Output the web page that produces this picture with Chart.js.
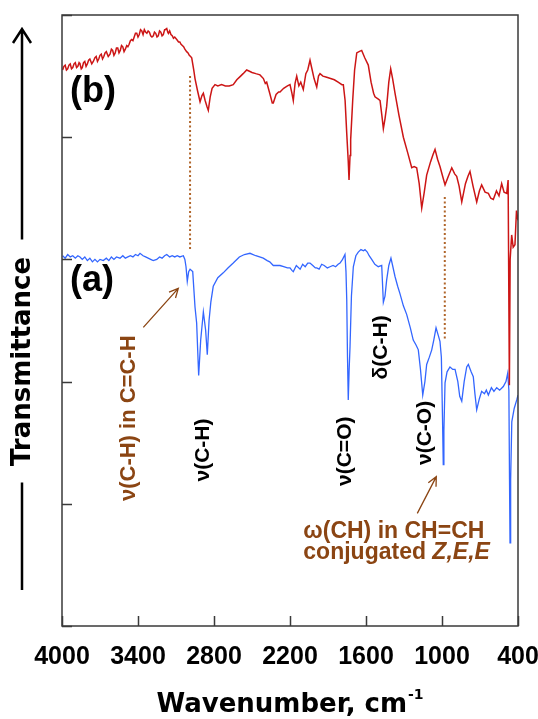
<!DOCTYPE html>
<html><head><meta charset="utf-8">
<script src="https://cdn.jsdelivr.net/npm/chart.js@4"></script>
<style>html,body{margin:0;padding:0;background:#fff}#c{display:block}</style>
</head><body>
<canvas id="c" width="538" height="719"></canvas>
<script>
// ---- data (wavenumber in cm-1, transmittance in arbitrary offset units) ----
const redWn = [3995,3985,3975,3965,3955,3945,3935,3925,3915,3905,3895,3885,3875,3865,3858,3848,3840,3830,3820,3810,3800,3790,3780,3765,3753,3740,3730,3720,3710,3700,3690,3680,3670,3660,3650,3635,3621,3610,3600,3590,3580,3570,3560,3550,3540,3530,3520,3510,3500,3489,3480,3470,3460,3450,3440,3430,3420,3410,3400,3390,3380,3370,3360,3350,3340,3330,3320,3310,3300,3290,3279,3270,3260,3250,3240,3230,3220,3210,3200,3190,3185,3173,3165,3160,3150,3140,3130,3120,3110,3094,3080,3070,3060,3050,3040,3030,3016,3005,2995,2985,2976,2960,2950,2930,2910,2895,2884,2870,2855,2845,2830,2815,2792,2770,2740,2710,2680,2648,2620,2590,2570,2542,2520,2500,2470,2437,2410,2395,2384,2360,2340,2332,2310,2290,2279,2250,2220,2200,2185,2174,2160,2147,2130,2115,2095,2075,2060,2042,2025,2010,1989,1975,1963,1940,1910,1880,1850,1820,1790,1779,1765,1752,1740,1734,1726,1721,1705,1690,1673,1655,1634,1610,1582,1560,1540,1529,1500,1489,1475,1463,1450,1437,1420,1405,1390,1371,1340,1305,1270,1239,1220,1200,1180,1160,1140,1121,1090,1070,1055,1035,1016,995,976,950,923,900,884,865,844,815,795,779,755,726,705,687,660,634,615,595,570,550,529,510,489,478,468,462,450,438,424,412,400];
const redT  = [4.55,4.58,4.59,4.55,4.56,4.59,4.60,4.56,4.57,4.60,4.61,4.57,4.58,4.61,4.60,4.56,4.57,4.61,4.62,4.58,4.60,4.63,4.64,4.60,4.62,4.65,4.66,4.62,4.64,4.67,4.68,4.64,4.66,4.69,4.70,4.66,4.68,4.72,4.71,4.67,4.69,4.73,4.73,4.69,4.71,4.75,4.74,4.70,4.72,4.75,4.74,4.76,4.79,4.80,4.79,4.82,4.85,4.85,4.82,4.84,4.88,4.87,4.84,4.88,4.86,4.85,4.87,4.86,4.83,4.82,4.83,4.86,4.85,4.82,4.83,4.87,4.86,4.83,4.84,4.88,4.88,4.89,4.86,4.85,4.87,4.84,4.83,4.81,4.82,4.80,4.78,4.78,4.76,4.75,4.74,4.72,4.70,4.69,4.67,4.66,4.65,4.55,4.48,4.38,4.29,4.34,4.36,4.30,4.25,4.22,4.33,4.40,4.43,4.42,4.43,4.42,4.42,4.43,4.47,4.50,4.52,4.55,4.54,4.53,4.52,4.51,4.48,4.44,4.45,4.36,4.28,4.28,4.35,4.37,4.37,4.40,4.42,4.43,4.36,4.30,4.44,4.50,4.42,4.45,4.39,4.52,4.55,4.63,4.55,4.48,4.41,4.50,4.52,4.50,4.49,4.48,4.47,4.45,4.43,4.43,4.30,4.03,3.80,3.65,3.85,3.98,4.30,4.55,4.69,4.70,4.71,4.65,4.59,4.45,4.36,4.33,4.31,4.30,4.18,4.07,4.15,4.25,4.45,4.56,4.48,4.36,4.18,4.00,3.87,3.75,3.76,3.75,3.62,3.42,3.55,3.69,3.80,3.86,3.90,3.82,3.76,3.68,3.61,3.68,3.75,3.70,3.68,3.60,3.47,3.62,3.68,3.72,3.60,3.47,3.56,3.61,3.55,3.54,3.50,3.49,3.56,3.52,3.62,3.55,3.54,3.65,1.97,3.00,3.20,3.10,3.12,3.40,3.32];

const blueWn = [3995,3975,3955,3935,3915,3895,3875,3858,3840,3820,3800,3780,3760,3740,3720,3700,3674,3650,3630,3610,3590,3570,3542,3520,3500,3480,3460,3440,3420,3400,3384,3360,3340,3320,3300,3280,3252,3230,3210,3190,3173,3150,3130,3110,3090,3070,3042,3030,3021,3011,3000,2989,2968,2950,2937,2921,2905,2884,2866,2853,2839,2825,2806,2770,2727,2690,2648,2600,2560,2516,2470,2440,2411,2380,2360,2332,2300,2279,2250,2220,2200,2185,2174,2150,2120,2100,2080,2060,2042,2020,2000,1989,1970,1950,1930,1905,1884,1860,1840,1820,1805,1785,1766,1758,1752,1746,1740,1733,1726,1715,1700,1680,1661,1640,1620,1608,1590,1575,1555,1530,1503,1476,1463,1450,1437,1420,1403,1390,1371,1350,1332,1305,1279,1250,1227,1205,1187,1170,1152,1135,1121,1100,1081,1065,1047,1030,1016,1005,996,990,985,976,960,937,915,897,875,860,844,825,805,792,770,753,740,726,705,687,665,650,634,610,590,568,545,516,495,481,472,467,463,458,449,430,410,400];
const blueT  = [3.03,3.01,3.04,3.02,3.03,3.01,3.03,3.02,3.00,3.02,2.99,3.01,2.98,3.00,2.98,3.00,2.99,3.01,2.99,3.02,3.00,3.02,3.01,3.03,3.01,3.02,3.03,3.02,3.04,3.03,3.05,3.03,3.02,3.01,3.00,2.99,3.00,3.02,3.01,3.03,3.04,3.02,3.03,3.02,3.03,3.02,3.03,3.00,2.94,2.82,2.90,2.92,2.90,2.61,2.48,2.05,2.34,2.57,2.42,2.22,2.50,2.65,2.78,2.85,2.89,2.93,2.97,3.02,3.04,3.05,3.03,3.02,3.01,2.99,2.98,2.95,2.95,2.95,2.94,2.93,2.93,2.91,2.90,2.95,2.92,2.96,2.94,2.97,2.97,2.95,2.93,2.93,2.92,2.96,2.95,2.93,2.94,2.95,2.94,2.96,2.97,3.00,3.04,2.90,2.67,2.20,1.85,2.10,2.29,2.70,2.94,3.03,3.06,3.08,3.07,3.08,3.06,3.03,3.00,2.96,2.94,2.95,2.65,2.70,2.83,2.95,3.01,2.95,2.86,2.78,2.72,2.62,2.55,2.44,2.34,2.30,2.26,2.10,1.89,2.00,2.14,2.20,2.26,2.34,2.44,2.38,2.33,2.20,1.70,1.32,1.60,1.99,2.08,2.12,2.10,2.10,2.00,1.88,1.84,2.00,2.12,2.14,2.08,2.04,1.90,1.77,1.86,1.92,1.90,1.93,1.89,1.95,1.92,1.95,1.93,1.96,2.00,2.07,1.93,1.20,0.68,1.20,1.67,1.78,1.85,1.89];

const xTicks = [4000,3400,2800,2200,1600,1000,400];
const yTicks = [0,1,2,3,4,5];

// guide lines (dotted), arrows, labels in data units
const guideWn = [2989, 978];
const guideTop = [4.50, 3.51];
const guideBottom = [3.085, 2.34];

const arrows = [
  {from:[3358,2.444], to:[3082,2.763]},
  {from:[1195,0.922], to:[1045,1.222]}
];
const rotLabels = [
  {text:'ν(C-H) in C=C-H', wn:3475, t:1.70, color:'#8B4513', size:22},
  {text:'ν(C-H)', wn:2887, t:1.44, color:'#000', size:21},
  {text:'ν(C=O)', wn:1762, t:1.43, color:'#000', size:21},
  {text:'δ(C-H)', wn:1482, t:2.28, color:'#000', size:21},
  {text:'ν(C-O)', wn:1134, t:1.58, color:'#000', size:21}
];
const seriesLabels = [
  {text:'(b)', wn:3937, t:4.37},
  {text:'(a)', wn:3937, t:2.82}
];
const noteWn = 2095, noteT1 = 0.77, noteT2 = 0.60;

const pts = (xs, ys) => xs.map((x,i)=>({x:x, y:ys[i]}));

const deco = {
  id:'deco',
  afterDraw(chart){
    const ctx = chart.ctx, a = chart.chartArea;
    const xs = chart.scales.x, ys = chart.scales.y;
    const X = v => xs.getPixelForValue(v), Y = v => ys.getPixelForValue(v);
    ctx.save();
    // frame
    ctx.strokeStyle = '#3a3a3a'; ctx.lineWidth = 1.5;
    ctx.strokeRect(a.left, a.top, a.right-a.left, a.bottom-a.top);
    // inward ticks
    ctx.beginPath();
    xTicks.forEach(v=>{ const px = Math.round(X(v))+0.5; ctx.moveTo(px, a.bottom); ctx.lineTo(px, a.bottom-10); });
    yTicks.forEach(v=>{ const py = Math.round(Y(v))+0.5; ctx.moveTo(a.left, py); ctx.lineTo(a.left+10, py); });
    ctx.stroke();
    // dotted guides
    ctx.strokeStyle = '#b0652a'; ctx.lineWidth = 2; ctx.setLineDash([2,2.5]);
    guideWn.forEach((w,i)=>{ ctx.beginPath(); ctx.moveTo(X(w), Y(guideTop[i])); ctx.lineTo(X(w), Y(guideBottom[i])); ctx.stroke(); });
    ctx.setLineDash([]);
    // arrows
    ctx.strokeStyle = '#8B4513'; ctx.lineWidth = 1.3;
    arrows.forEach(ar=>{
      const x1=X(ar.from[0]), y1=Y(ar.from[1]), x2=X(ar.to[0]), y2=Y(ar.to[1]);
      const ang = Math.atan2(y2-y1, x2-x1), L = 10, sp = 0.45;
      ctx.beginPath(); ctx.moveTo(x1,y1); ctx.lineTo(x2,y2);
      ctx.moveTo(x2 - L*Math.cos(ang-sp), y2 - L*Math.sin(ang-sp)); ctx.lineTo(x2,y2);
      ctx.lineTo(x2 - L*Math.cos(ang+sp), y2 - L*Math.sin(ang+sp));
      ctx.stroke();
    });
    // rotated labels
    rotLabels.forEach(l=>{
      ctx.save(); ctx.translate(X(l.wn), Y(l.t)); ctx.rotate(-Math.PI/2);
      ctx.font = 'bold '+l.size+'px "Liberation Sans", Arial, sans-serif';
      ctx.fillStyle = l.color; ctx.textAlign='center'; ctx.textBaseline='middle';
      ctx.fillText(l.text, 0, 0); ctx.restore();
    });
    // series labels
    ctx.font = 'bold 36px "Liberation Sans", Arial, sans-serif';
    ctx.fillStyle = '#000'; ctx.textAlign='left'; ctx.textBaseline='middle';
    seriesLabels.forEach(l=> ctx.fillText(l.text, X(l.wn), Y(l.t)));
    // note text
    ctx.fillStyle = '#8B4513';
    ctx.font = 'bold 23px "Liberation Sans", Arial, sans-serif';
    ctx.fillText('ω(CH) in CH=CH', X(noteWn), Y(noteT1));
    const p1 = 'conjugated ';
    ctx.fillText(p1, X(noteWn), Y(noteT2));
    const w1 = ctx.measureText(p1).width;
    ctx.font = 'italic bold 23px "Liberation Sans", Arial, sans-serif';
    ctx.fillText('Z,E,E', X(noteWn)+w1, Y(noteT2));
    // y title with arrow
    const tx = 22, midY = a.top + (a.bottom - a.top)*0.567;
    ctx.fillStyle = '#000';
    ctx.save(); ctx.translate(tx+1, midY); ctx.rotate(-Math.PI/2);
    ctx.font = 'bold 26px "DejaVu Sans", sans-serif'; ctx.textAlign='center'; ctx.textBaseline='middle';
    ctx.fillText('Transmittance', 0, 0); ctx.restore();
    ctx.strokeStyle = '#000'; ctx.lineWidth = 2.5;
    ctx.beginPath();
    ctx.moveTo(tx, a.top+14); ctx.lineTo(tx, midY-122);
    ctx.moveTo(tx-9, a.top+28); ctx.lineTo(tx, a.top+14); ctx.lineTo(tx+9, a.top+28);
    ctx.moveTo(tx, midY+121); ctx.lineTo(tx, a.bottom-36);
    ctx.stroke();
    // x title
    ctx.font = 'bold 26px "DejaVu Sans", sans-serif';
    const main = 'Wavenumber, cm';
    const mw = ctx.measureText(main).width;
    ctx.font = 'bold 14px "DejaVu Sans", sans-serif';
    const sw = ctx.measureText('-1').width;
    const cx = (a.left + a.right)/2, sx = cx - (mw + sw + 1)/2;
    ctx.textAlign='left'; ctx.textBaseline='alphabetic';
    ctx.font = 'bold 26px "DejaVu Sans", sans-serif';
    ctx.fillText(main, sx, 712);
    ctx.font = 'bold 14px "DejaVu Sans", sans-serif';
    ctx.fillText('-1', sx+mw+1, 699);
    ctx.restore();
  }
};

new Chart(document.getElementById('c'), {
  type:'line',
  data:{ datasets:[
    {label:'(b)', data:pts(redWn, redT), borderColor:'#cc1515', borderWidth:1.5, pointRadius:0, tension:0, fill:false},
    {label:'(a)', data:pts(blueWn, blueT), borderColor:'#3366ff', borderWidth:1.3, pointRadius:0, tension:0, fill:false}
  ]},
  options:{
    responsive:false, devicePixelRatio:1, animation:false,
    layout:{ padding:{top:15, right:20, left:0, bottom:0}, autoPadding:false },
    plugins:{ legend:{display:false}, tooltip:{enabled:false} },
    scales:{
      x:{ type:'linear', min:400, max:4000, reverse:true,
          afterBuildTicks: s => { s.ticks = xTicks.map(v=>({value:v})); },
          afterFit: s => { s.height = 93; s.paddingLeft = 0; s.paddingRight = 0; },
          grid:{display:false, drawTicks:false}, border:{display:false},
          ticks:{ color:'#000', padding:16, maxRotation:0, autoSkip:false,
                  callback: v => String(v),
                  font:{family:'"Liberation Sans", Arial, sans-serif', weight:'bold', size:25} } },
      y:{ type:'linear', min:0, max:5,
          afterFit: s => { s.width = 62; },
          grid:{display:false, drawTicks:false}, border:{display:false},
          ticks:{ display:false } }
    }
  },
  plugins:[deco]
});
</script>
</body></html>
